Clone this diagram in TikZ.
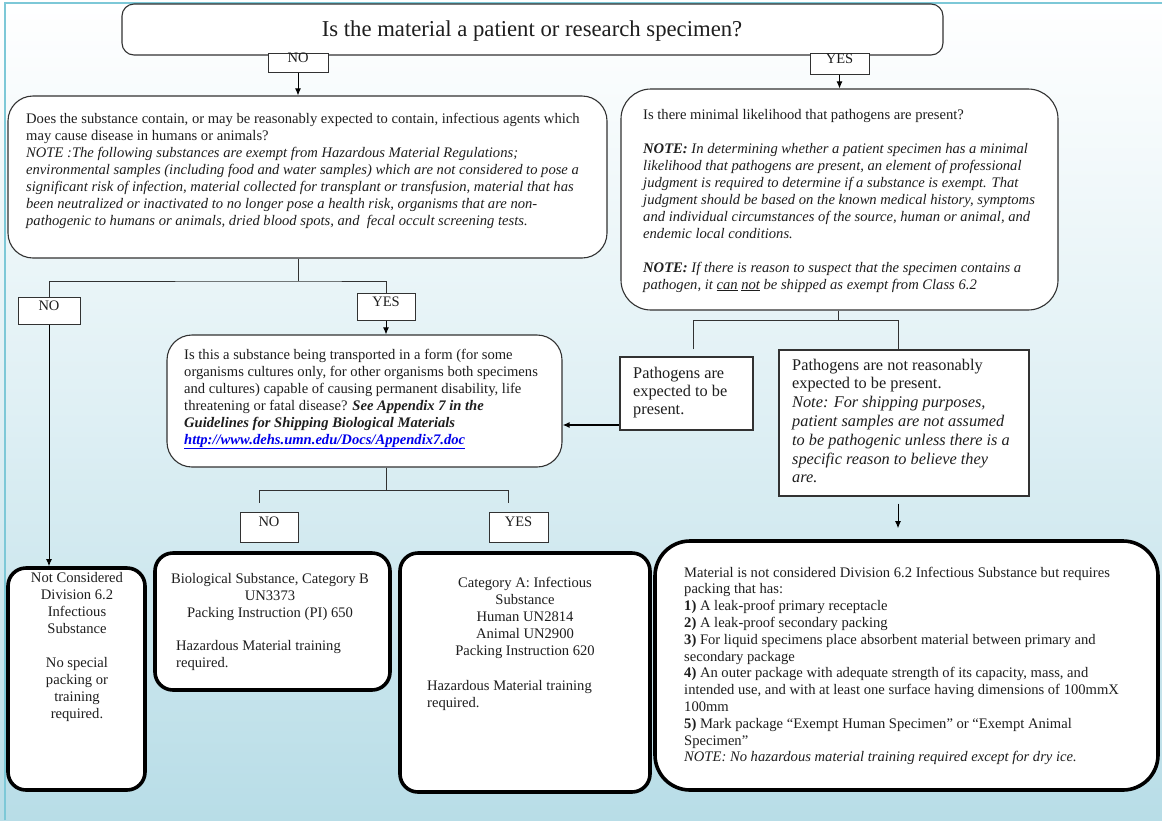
\documentclass[tikz,border=0pt]{standalone}
\usepackage{fontspec}
\setmainfont{Liberation Serif}
\usetikzlibrary{arrows.meta,fit,calc}
\definecolor{bgb}{RGB}{184,221,231}
\definecolor{frm}{RGB}{125,200,215}
\definecolor{ink}{RGB}{30,30,30}
\definecolor{edge}{RGB}{50,50,50}
\definecolor{lnk}{RGB}{0,0,235}
\newcommand{\mytl}[1]{\begin{tabular}[t]{@{}l@{}}#1\end{tabular}}
\newcommand{\mytc}[1]{\begin{tabular}[t]{@{}c@{}}#1\end{tabular}}
\begin{document}
\begin{tikzpicture}[x=1pt,y=-1pt,
  thinbox/.style={draw=edge, line width=1.1pt, fill=white, inner sep=0pt},
  lbl/.style={draw=edge, line width=1pt, fill=white, inner sep=0pt, text=ink, font=\fontsize{14.5}{16}\selectfont},
  outbox/.style={draw=black, line width=3.6pt, fill=white, inner sep=0pt, rounded corners=18pt},
  txt/.style={inner sep=0pt, text=ink, anchor=base west},
  ctxt/.style={inner sep=0pt, text=ink, anchor=base},
  fa/.style={font=\fontsize{14.6}{17}\selectfont},
  arr/.style={draw=black, line width=1pt, -{Latex[length=7pt,width=6pt]}},
  conn/.style={draw=edge, line width=1pt}]
\useasboundingbox (0,0) rectangle (1162,820);
\shade[top color=white, bottom color=bgb, middle color=white!55!bgb] (0,0) rectangle (1162,820);
\draw[frm, line width=2pt] (5,820) -- (5,3) -- (1162,3);

% top question
\node[thinbox, rounded corners=12pt, fit={(122,4)(943,55)}] (top) {};
\node[ctxt, font=\fontsize{22.7}{26}\selectfont] (tt) at (532,36) {Is the material a patient or research specimen?};
\node[lbl, fit={(268,53)(328,72)}] (no1) {NO};
\node[lbl, fit={(810,53)(869,74)}] (yes1) {YES};

% left question
\node[thinbox, rounded corners=25pt, fit={(8,96)(607,258)}] (lq) {};
\node[txt, fa] (lqt) at (26,123) {\mytl{Does the substance contain, or may be reasonably expected to contain, infectious agents which\\
may cause disease in humans or animals?\\
\textit{NOTE :The following substances are exempt from Hazardous Material Regulations;}\\
\textit{environmental samples (including food and water samples) which are not considered to pose a}\\
\textit{significant risk of infection, material collected for transplant or transfusion, material that has}\\
\textit{been neutralized or inactivated to no longer pose a health risk, organisms that are non-}\\
\textit{pathogenic to humans or animals, dried blood spots, and\ \ fecal occult screening tests.}}};

% right question
\node[thinbox, rounded corners=30pt, fit={(621,89)(1058,310)}] (rq) {};
\node[txt, fa] (rqt) at (643,119) {\mytl{Is there minimal likelihood that pathogens are present?\\[17pt]
\textbf{\textit{NOTE:}} \textit{In determining whether a patient specimen has a minimal}\\
\textit{likelihood that pathogens are present, an element of professional}\\
\textit{judgment is required to determine if a substance is exempt. That}\\
\textit{judgment should be based on the known medical history, symptoms}\\
\textit{and individual circumstances of the source, human or animal, and}\\
\textit{endemic local conditions.}\\[17pt]
\textbf{\textit{NOTE:}} \textit{If there is reason to suspect that the specimen contains a}\\
\textit{pathogen, it \underline{can} \underline{not} be shipped as exempt from Class 6.2}}};

% left branch labels
\coordinate (j1) at (298,281);
\node[lbl, fit={(18,297)(80,324)}] (no2) {NO};
\node[lbl, fit={(357,293)(415,320)}] (yes2) {YES};

% middle question
\node[thinbox, rounded corners=25pt, fit={(167,335)(562,467)}] (mq) {};
\node[txt, fa] (mqt) at (184,359) {\mytl{Is this a substance being transported in a form (for some\\
organisms cultures only, for other organisms both specimens\\
and cultures) capable of causing permanent disability, life\\
threatening or fatal disease? \textbf{\textit{See Appendix 7 in the}}\\
\textbf{\textit{Guidelines for Shipping Biological Materials}}\\
\textcolor{lnk}{\underline{\textbf{\textit{http://www.dehs.umn.edu/Docs/Appendix7.doc}}}}}};

% pathogen boxes
\node[thinbox, fit={(620,357)(753,430)}] (pe) {};
\node[txt, font=\fontsize{16.3}{18}\selectfont] (pet) at (633,378) {\mytl{Pathogens are\\expected to be\\present.}};
\node[thinbox, fit={(779,350)(1029,496)}] (pn) {};
\node[txt, font=\fontsize{16.3}{18.8}\selectfont] (pnt) at (792,370) {\mytl{Pathogens are not reasonably\\
expected to be present.\\
\textit{Note: For shipping purposes,}\\
\textit{patient samples are not assumed}\\
\textit{to be pathogenic unless there is a}\\
\textit{specific reason to believe they}\\
\textit{are.}}};

% middle branch labels
\node[lbl, fit={(240,512)(298,542)}] (no3) {NO};
\node[lbl, fit={(489,512)(548,542)}] (yes3) {YES};

% outcome boxes
\node[outbox, fit={(8,568)(145,790)}] (nc) {};
\node[ctxt, fa] (nct) at (77,582) {\mytc{Not Considered\\Division 6.2\\Infectious\\Substance\\[17pt]No special\\packing or\\training\\required.}};

\node[outbox, fit={(155,553)(390,690)}] (bio) {};
\node[ctxt, fa] (biot) at (270,583) {\mytc{Biological Substance, Category B\\UN3373\\Packing Instruction (PI) 650}};
\node[txt, fa] (bioh) at (176,650) {\mytl{Hazardous Material training\\required.}};

\node[outbox, fit={(400,553)(650,792)}] (cata) {};
\node[ctxt, fa] (catat) at (525,587) {\mytc{Category A: Infectious\\Substance\\Human UN2814\\Animal UN2900\\Packing Instruction 620}};
\node[txt, fa] (catah) at (427,690) {\mytl{Hazardous Material training\\required.}};

\node[outbox, rounded corners=35pt, fit={(655,541)(1158,790)}] (big) {};
\node[txt, font=\fontsize{14.6}{16.8}\selectfont] (bigt) at (684,577) {\mytl{Material is not considered Division 6.2 Infectious Substance but requires\\
packing that has:\\
\textbf{1)} A leak-proof primary receptacle\\
\textbf{2)} A leak-proof secondary packing\\
\textbf{3)} For liquid specimens place absorbent material between primary and\\
secondary package\\
\textbf{4)} An outer package with adequate strength of its capacity, mass, and\\
intended use, and with at least one surface having dimensions of 100mmX\\
100mm\\
\textbf{5)} Mark package “Exempt Human Specimen” or “Exempt Animal\\
Specimen”\\
\textit{NOTE: No hazardous material training required except for dry ice.}}};

% connectors
\draw[arr] (no1.south) -- (no1.south |- lq.north);
\draw[arr] (yes1.south) -- (yes1.south |- rq.north);
\draw[conn] (lq.south -| j1) -- (j1);
\draw[conn] (no2.north) |- (j1) -| (yes2.north);
\draw[arr] (no2.south) -- (no2.south |- nc.north);
\draw[arr] (yes2.south) -- (yes2.south |- mq.north);

\coordinate (pa) at (620,425);
\draw[arr, line width=2pt] (pe.west |- pa) -- (mq.east |- pa);

\coordinate (j2) at (838,320);
\coordinate (j3) at (898,320);
\coordinate (j5) at (693,320);
\draw[conn] (rq.south -| j2) -- (j2);
\draw[conn] ($(pe.north -| j5)+(0,-7)$) -- (j5) -- (j3) -- (pn.north -| j3);
\draw[arr] ($(pn.south -| j3)+(0,7)$) -- ($(big.north -| j3)+(0,-11)$);

\coordinate (j4) at (386,490);
\coordinate (j6) at (259,490);
\coordinate (j7) at (508,490);
\draw[conn] (mq.south -| j4) -- (j4);
\draw[conn] ($(no3.north -| j6)+(0,-9)$) -- (j6) -- (j7) -- ($(yes3.north -| j7)+(0,-9)$);
\end{tikzpicture}
\end{document}
